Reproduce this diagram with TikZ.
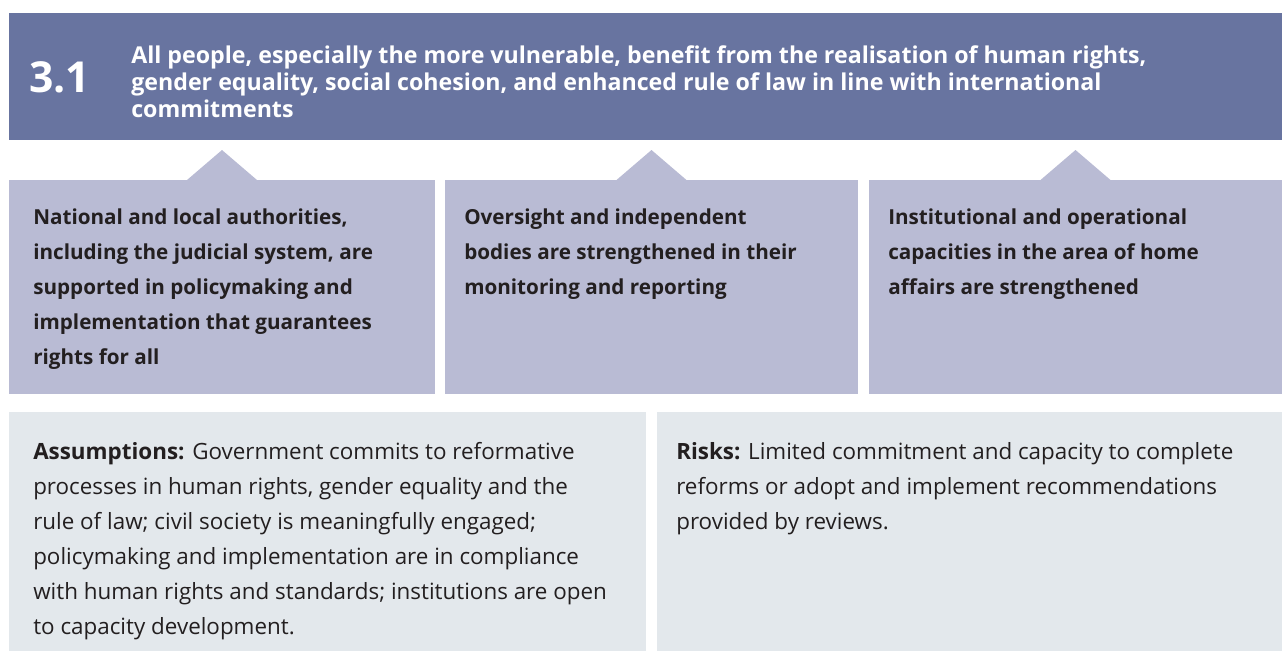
\documentclass[tikz,border=0pt]{standalone}
\usepackage{fontspec}
\setmainfont{Open Sans}
\usetikzlibrary{positioning}

\definecolor{goalblue}{HTML}{6874A0}
\definecolor{outlilac}{HTML}{B9BBD4}
\definecolor{notegrey}{HTML}{E3E8EC}
\definecolor{inkdark}{HTML}{231F20}

\begin{document}
\begin{tikzpicture}[x=0.75pt, y=-0.75pt,
    box/.style={anchor=north west, inner sep=0pt, outer sep=0pt},
    outtext/.style={anchor=north west, inner sep=0pt, align=left, text=inkdark,
        font=\bfseries\fontsize{15.5}{26.25}\selectfont},
    notetext/.style={anchor=north west, inner sep=0pt, align=left, text=inkdark,
        font=\fontsize{16.8}{26.25}\selectfont}]
    \useasboundingbox (0,0) rectangle (1282,651);

    % Outcome bar
    \node[box, fill=goalblue, minimum width=1273*0.75pt, minimum height=127*0.75pt] (goal) at (9,13) {};
    \node[anchor=base west, inner sep=0pt, text=white, font=\bfseries\fontsize{32}{32}\selectfont]
        (num) at (29,92) {3.1};
    \node[anchor=north west, inner sep=0pt, align=left, text=white,
          font=\bfseries\fontsize{17.4}{20.25}\selectfont] (goaltext) at (131,45)
        {All people, especially the more vulnerable, benefit from the realisation of human rights,\\
         gender equality, social cohesion, and enhanced rule of law in line with international\\
         commitments};

    % Outputs
    \node[box, fill=outlilac, minimum width=426*0.75pt, minimum height=214*0.75pt] (out1) at (9,180) {};
    \node[box, fill=outlilac, minimum width=413*0.75pt, minimum height=214*0.75pt] (out2) at (445,180) {};
    \node[box, fill=outlilac, minimum width=413*0.75pt, minimum height=214*0.75pt] (out3) at (869,180) {};

    % Pointers up to the outcome
    \foreach \o in {out1,out2,out3}
        \fill[outlilac] ([xshift=-35*0.75pt]\o.north) -- ([yshift=30*0.75pt]\o.north) -- ([xshift=35*0.75pt]\o.north) -- cycle;

    \node[outtext] (t1) at ([shift={(24,29)}]out1.north west)
        {National and local authorities,\\
         including the judicial system, are\\
         supported in policymaking and\\
         implementation that guarantees\\
         rights for all};
    \node[outtext] (t2) at ([shift={(19,29)}]out2.north west)
        {Oversight and independent\\
         bodies are strengthened in their\\
         monitoring and reporting};
    \node[outtext] (t3) at ([shift={(19,29)}]out3.north west)
        {Institutional and operational\\
         capacities in the area of home\\
         affairs are strengthened};

    % Assumptions and risks
    \node[box, fill=notegrey, minimum width=637*0.75pt, minimum height=239*0.75pt] (assume) at (9,412) {};
    \node[box, fill=notegrey, minimum width=625*0.75pt, minimum height=239*0.75pt] (risk) at (657,412) {};

    \node[notetext] (ta) at ([shift={(24,30)}]assume.north west)
        {\textbf{Assumptions:} Government commits to reformative\\
         processes in human rights, gender equality and the\\
         rule of law; civil society is meaningfully engaged;\\
         policymaking and implementation are in compliance\\
         with human rights and standards; institutions are open\\
         to capacity development.};
    \node[notetext] (tr) at ([shift={(19,30)}]risk.north west)
        {\textbf{Risks:} Limited commitment and capacity to complete\\
         reforms or adopt and implement recommendations\\
         provided by reviews.};
\end{tikzpicture}
\end{document}
